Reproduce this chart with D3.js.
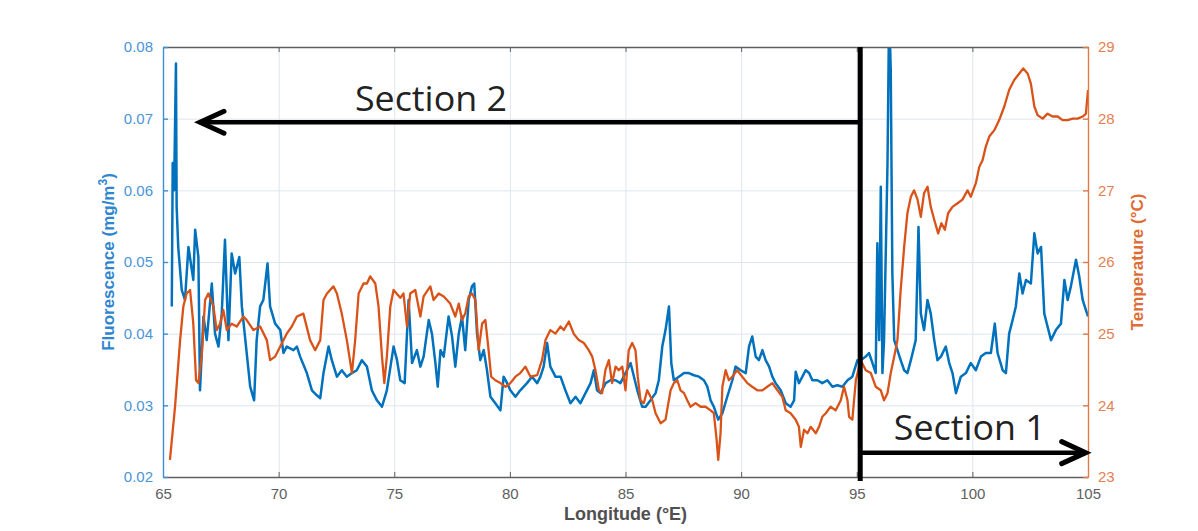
<!DOCTYPE html>
<html>
<head>
<meta charset="utf-8">
<script src="https://cdn.jsdelivr.net/npm/d3@7"></script>
<style>
  body { margin: 0; background: #fff; }
  svg { display: block; font-family: "Liberation Sans", Arial, sans-serif; }
</style>
</head>
<body>
<div id="chart"></div>
<script>
// fluorescence (mg/m3) along the track
const fluoLon = [65.38, 65.42, 65.48, 65.56, 65.59, 65.66, 65.81, 65.95, 66.10, 66.31, 66.39, 66.53, 66.60, 66.75, 66.89, 67.11, 67.25, 67.40, 67.54, 67.68, 67.83, 67.97, 68.12, 68.30, 68.41, 68.62, 68.77, 68.94, 69.05, 69.20, 69.34, 69.52, 69.63, 69.85, 70.07, 70.21, 70.35, 70.64, 70.79, 70.93, 71.22, 71.44, 71.65, 71.80, 71.94, 72.16, 72.30, 72.52, 72.73, 72.95, 73.17, 73.38, 73.60, 73.82, 74.03, 74.25, 74.47, 74.68, 74.97, 75.12, 75.26, 75.45, 75.62, 75.77, 75.98, 76.13, 76.27, 76.49, 76.63, 76.78, 76.88, 77.00, 77.14, 77.35, 77.50, 77.64, 77.79, 77.93, 78.07, 78.22, 78.36, 78.46, 78.58, 78.72, 78.87, 79.01, 79.16, 79.37, 79.59, 79.73, 79.88, 80.02, 80.24, 80.45, 80.74, 80.96, 81.18, 81.32, 81.46, 81.61, 81.75, 81.97, 82.19, 82.40, 82.62, 82.84, 83.05, 83.27, 83.49, 83.63, 83.77, 83.92, 84.14, 84.35, 84.57, 84.78, 85.22, 85.51, 85.72, 85.87, 86.08, 86.30, 86.44, 86.59, 86.73, 86.88, 86.98, 87.09, 87.31, 87.53, 87.74, 87.96, 88.18, 88.39, 88.54, 88.68, 88.82, 89.01, 89.19, 89.40, 89.62, 89.76, 89.98, 90.20, 90.34, 90.48, 90.63, 90.77, 90.92, 91.06, 91.21, 91.35, 91.49, 91.71, 91.93, 92.14, 92.29, 92.36, 92.50, 92.65, 92.79, 92.94, 93.08, 93.30, 93.51, 93.73, 93.95, 94.16, 94.38, 94.60, 94.81, 95.03, 95.17, 95.39, 95.53, 95.68, 95.82, 95.89, 95.97, 96.04, 96.11, 96.18, 96.26, 96.33, 96.40, 96.47, 96.54, 96.62, 96.76, 96.90, 97.05, 97.19, 97.34, 97.55, 97.67, 97.77, 97.91, 98.06, 98.20, 98.35, 98.49, 98.64, 98.85, 99.00, 99.14, 99.29, 99.50, 99.72, 99.93, 100.15, 100.37, 100.58, 100.80, 100.97, 101.09, 101.31, 101.45, 101.59, 101.74, 101.88, 102.03, 102.17, 102.32, 102.53, 102.68, 102.82, 102.97, 103.11, 103.25, 103.40, 103.61, 103.83, 103.98, 104.12, 104.26, 104.48, 104.62, 104.77, 104.91, 105.00];
const fluoVal = [0.0438, 0.0638, 0.0600, 0.0777, 0.0577, 0.0520, 0.0461, 0.0447, 0.0521, 0.0475, 0.0545, 0.0507, 0.0321, 0.0424, 0.0391, 0.0470, 0.0400, 0.0382, 0.0428, 0.0531, 0.0391, 0.0512, 0.0484, 0.0507, 0.0438, 0.0373, 0.0326, 0.0307, 0.0391, 0.0438, 0.0447, 0.0498, 0.0438, 0.0414, 0.0405, 0.0373, 0.0382, 0.0377, 0.0382, 0.0368, 0.0345, 0.0321, 0.0314, 0.0310, 0.0345, 0.0382, 0.0363, 0.0340, 0.0349, 0.0340, 0.0345, 0.0349, 0.0363, 0.0354, 0.0321, 0.0307, 0.0298, 0.0321, 0.0382, 0.0363, 0.0335, 0.0331, 0.0447, 0.0359, 0.0377, 0.0354, 0.0368, 0.0419, 0.0400, 0.0359, 0.0326, 0.0377, 0.0368, 0.0424, 0.0396, 0.0354, 0.0400, 0.0424, 0.0377, 0.0447, 0.0466, 0.0470, 0.0400, 0.0363, 0.0377, 0.0349, 0.0312, 0.0303, 0.0293, 0.0340, 0.0331, 0.0321, 0.0312, 0.0321, 0.0331, 0.0340, 0.0331, 0.0340, 0.0354, 0.0387, 0.0354, 0.0340, 0.0340, 0.0321, 0.0303, 0.0312, 0.0303, 0.0317, 0.0331, 0.0349, 0.0321, 0.0317, 0.0331, 0.0335, 0.0335, 0.0331, 0.0359, 0.0321, 0.0298, 0.0298, 0.0307, 0.0317, 0.0335, 0.0382, 0.0405, 0.0438, 0.0359, 0.0335, 0.0340, 0.0345, 0.0345, 0.0342, 0.0340, 0.0335, 0.0326, 0.0307, 0.0298, 0.0280, 0.0289, 0.0312, 0.0335, 0.0354, 0.0349, 0.0345, 0.0382, 0.0396, 0.0368, 0.0363, 0.0377, 0.0363, 0.0354, 0.0340, 0.0331, 0.0321, 0.0303, 0.0298, 0.0307, 0.0347, 0.0331, 0.0340, 0.0349, 0.0345, 0.0335, 0.0335, 0.0331, 0.0335, 0.0326, 0.0328, 0.0326, 0.0335, 0.0340, 0.0363, 0.0363, 0.0368, 0.0373, 0.0359, 0.0345, 0.0526, 0.0391, 0.0605, 0.0345, 0.0391, 0.0521, 0.0638, 0.0850, 0.0768, 0.0484, 0.0391, 0.0377, 0.0363, 0.0349, 0.0345, 0.0363, 0.0391, 0.0549, 0.0428, 0.0405, 0.0447, 0.0428, 0.0391, 0.0363, 0.0368, 0.0382, 0.0359, 0.0345, 0.0317, 0.0340, 0.0345, 0.0359, 0.0349, 0.0368, 0.0373, 0.0373, 0.0414, 0.0373, 0.0349, 0.0345, 0.0400, 0.0419, 0.0438, 0.0484, 0.0456, 0.0475, 0.0470, 0.0540, 0.0512, 0.0521, 0.0428, 0.0410, 0.0391, 0.0405, 0.0414, 0.0475, 0.0447, 0.0466, 0.0503, 0.0480, 0.0447, 0.0433, 0.0424];

// temperature (degC)
const tempLon = [65.30, 65.52, 65.74, 65.88, 66.02, 66.17, 66.31, 66.43, 66.53, 66.67, 66.82, 66.96, 67.18, 67.32, 67.47, 67.61, 67.76, 67.97, 68.19, 68.48, 68.62, 68.91, 69.20, 69.49, 69.63, 69.85, 70.07, 70.35, 70.57, 70.79, 71.07, 71.36, 71.58, 71.80, 71.94, 72.09, 72.37, 72.52, 72.73, 72.95, 73.17, 73.31, 73.46, 73.67, 73.82, 73.96, 74.18, 74.32, 74.47, 74.57, 74.68, 74.83, 74.97, 75.26, 75.40, 75.55, 75.69, 75.91, 76.13, 76.27, 76.56, 76.70, 76.92, 77.14, 77.42, 77.64, 77.79, 77.93, 78.07, 78.22, 78.36, 78.51, 78.65, 78.80, 78.94, 79.08, 79.19, 79.37, 79.59, 79.81, 80.02, 80.24, 80.45, 80.67, 80.89, 81.18, 81.39, 81.54, 81.75, 81.97, 82.19, 82.33, 82.55, 82.76, 82.98, 83.20, 83.41, 83.56, 83.70, 83.85, 83.99, 84.13, 84.28, 84.42, 84.57, 84.71, 84.86, 85.00, 85.14, 85.29, 85.43, 85.53, 85.65, 85.79, 85.94, 86.16, 86.30, 86.52, 86.73, 86.95, 87.09, 87.24, 87.38, 87.53, 87.67, 87.81, 88.03, 88.25, 88.46, 88.68, 88.82, 88.94, 89.01, 89.11, 89.19, 89.33, 89.47, 89.62, 89.83, 90.05, 90.27, 90.48, 90.70, 90.92, 91.13, 91.35, 91.57, 91.78, 91.93, 92.14, 92.36, 92.50, 92.58, 92.72, 92.87, 93.01, 93.23, 93.37, 93.51, 93.66, 93.87, 94.09, 94.31, 94.45, 94.60, 94.67, 94.81, 94.96, 95.17, 95.39, 95.61, 95.82, 96.04, 96.18, 96.33, 96.47, 96.62, 96.76, 96.90, 97.05, 97.19, 97.34, 97.48, 97.63, 97.77, 97.91, 98.06, 98.20, 98.35, 98.52, 98.66, 98.81, 98.95, 99.14, 99.36, 99.57, 99.79, 99.93, 100.15, 100.30, 100.44, 100.58, 100.73, 100.95, 101.16, 101.38, 101.59, 101.81, 102.03, 102.20, 102.39, 102.53, 102.68, 102.82, 103.04, 103.25, 103.47, 103.69, 103.90, 104.12, 104.34, 104.55, 104.77, 104.91, 105.00];
const tempVal = [23.24, 23.98, 24.91, 25.38, 25.56, 25.61, 25.14, 24.35, 24.31, 24.68, 25.47, 25.56, 25.38, 25.05, 25.14, 25.33, 25.05, 25.14, 25.10, 25.24, 25.19, 25.05, 25.10, 24.91, 24.63, 24.68, 24.82, 25.00, 25.10, 25.24, 25.28, 24.91, 24.77, 24.91, 25.47, 25.56, 25.66, 25.56, 25.28, 24.91, 24.45, 24.91, 25.56, 25.70, 25.70, 25.80, 25.70, 25.38, 24.68, 24.31, 24.68, 25.38, 25.61, 25.50, 25.56, 25.10, 25.56, 25.61, 25.24, 25.52, 25.66, 25.47, 25.56, 25.52, 25.42, 25.24, 25.42, 25.19, 25.28, 25.52, 25.56, 25.47, 24.77, 25.14, 25.19, 24.77, 24.40, 24.35, 24.31, 24.26, 24.31, 24.40, 24.45, 24.54, 24.40, 24.42, 24.63, 24.91, 25.05, 25.00, 25.10, 25.05, 25.17, 25.00, 24.91, 24.87, 24.77, 24.68, 24.49, 24.21, 24.17, 24.49, 24.63, 24.31, 24.54, 24.49, 24.54, 24.21, 24.77, 24.87, 24.77, 24.40, 24.07, 24.03, 24.21, 24.07, 23.89, 23.75, 23.80, 24.21, 24.31, 24.35, 24.21, 24.17, 24.07, 23.98, 24.03, 23.98, 23.98, 23.93, 23.89, 23.52, 23.24, 23.61, 24.26, 24.49, 24.35, 24.40, 24.49, 24.40, 24.31, 24.26, 24.21, 24.21, 24.26, 24.31, 24.21, 24.12, 23.93, 23.89, 23.80, 23.70, 23.42, 23.66, 23.61, 23.70, 23.61, 23.70, 23.84, 23.89, 23.98, 23.93, 24.07, 24.26, 24.07, 23.84, 23.80, 24.35, 24.63, 24.49, 24.45, 24.26, 24.21, 24.07, 24.17, 24.45, 24.68, 24.91, 25.61, 26.21, 26.68, 26.91, 27.00, 26.87, 26.63, 26.96, 27.05, 26.77, 26.59, 26.40, 26.54, 26.45, 26.68, 26.77, 26.82, 26.87, 27.00, 26.91, 27.10, 27.33, 27.42, 27.61, 27.75, 27.84, 27.98, 28.17, 28.40, 28.54, 28.63, 28.70, 28.63, 28.49, 28.17, 28.05, 28.00, 28.07, 28.03, 28.03, 27.98, 27.98, 28.00, 28.00, 28.03, 28.07, 28.40];

const lonTicks = [65, 70, 75, 80, 85, 90, 95, 100, 105];
const fluoTicks = [0.02, 0.03, 0.04, 0.05, 0.06, 0.07, 0.08];
const tempTicks = [23, 24, 25, 26, 27, 28, 29];

// section divider and arrows (longitude / fluorescence units)
const sectionLon = 95.15;
const sections = [
    {label: 'Section 2', tip: 66.6, y: 0.0695, textLon: 73.3, textY: 0.0711},
    {label: 'Section 1', tip: 104.9, y: 0.0234, textLon: 96.6, textY: 0.0251}
];

const W = 1198, H = 531;
const margin = {top: 47, right: 110, bottom: 54, left: 163};
const width = W - margin.left - margin.right;
const height = H - margin.top - margin.bottom;

const blue = '#0072BD';
const orange = '#D95319';

const svg = d3.select('#chart').append('svg')
    .attr('width', W)
    .attr('height', H);

const g = svg.append('g')
    .attr('transform', `translate(${margin.left},${margin.top})`);

const x = d3.scaleLinear().domain([65, 105]).range([0, width]);
const yF = d3.scaleLinear().domain([0.02, 0.08]).range([height, 0]);
const yT = d3.scaleLinear().domain([23, 29]).range([height, 0]);

// grid
g.append('g')
    .attr('class', 'grid')
    .attr('transform', `translate(0,${height})`)
    .call(d3.axisBottom(x).tickValues(lonTicks).tickSize(-height).tickFormat(''));
g.append('g')
    .attr('class', 'grid')
    .call(d3.axisLeft(yF).tickValues(fluoTicks).tickSize(-width).tickFormat(''));
g.selectAll('.grid line').attr('stroke', '#dfe6ee').attr('stroke-width', 1);
g.selectAll('.grid .domain').remove();

g.append('clipPath').attr('id', 'plot-clip')
    .append('rect').attr('width', width).attr('height', height);

const fluoData = fluoLon.map((d, i) => [d, fluoVal[i]]);
const tempData = tempLon.map((d, i) => [d, tempVal[i]]);

const lines = g.append('g').attr('clip-path', 'url(#plot-clip)');
lines.append('path')
    .datum(fluoData)
    .attr('fill', 'none')
    .attr('stroke', blue)
    .attr('stroke-width', 2.5)
    .attr('stroke-linejoin', 'round')
    .attr('d', d3.line().x(d => x(d[0])).y(d => yF(d[1])));
lines.append('path')
    .datum(tempData)
    .attr('fill', 'none')
    .attr('stroke', orange)
    .attr('stroke-width', 2.3)
    .attr('stroke-linejoin', 'round')
    .attr('d', d3.line().x(d => x(d[0])).y(d => yT(d[1])));

// axes, MATLAB style ticks pointing inward
const tickFont = 15;
const axBottom = g.append('g')
    .attr('transform', `translate(0,${height})`)
    .call(d3.axisBottom(x).tickValues(lonTicks).tickSizeInner(-5).tickSizeOuter(0).tickPadding(11).tickFormat(d3.format('d')));
const axTop = g.append('g')
    .call(d3.axisTop(x).tickValues(lonTicks).tickSizeInner(-5).tickSizeOuter(0).tickFormat(''));
[axBottom, axTop].forEach(a => {
    a.selectAll('path, line').attr('stroke', '#606060');
    a.select('.domain').attr('stroke-width', 1.4);
});
axBottom.selectAll('text').attr('fill', '#606060').style('font-size', tickFont + 'px');

const axLeft = g.append('g')
    .call(d3.axisLeft(yF).tickValues(fluoTicks).tickSizeInner(-5).tickSizeOuter(0).tickPadding(10).tickFormat(d3.format('.2f')));
axLeft.selectAll('path, line').attr('stroke', '#3d8ed6').attr('stroke-width', 1.4);
axLeft.selectAll('text').attr('fill', '#4a95d8').style('font-size', tickFont + 'px');

const axRight = g.append('g')
    .attr('transform', `translate(${width},0)`)
    .call(d3.axisRight(yT).tickValues(tempTicks).tickSizeInner(-5).tickSizeOuter(0).tickPadding(10).tickFormat(d3.format('d')));
axRight.selectAll('path, line').attr('stroke', '#e07a48').attr('stroke-width', 1.4);
axRight.selectAll('text').attr('fill', '#e38152').style('font-size', tickFont + 'px');

// axis titles
svg.append('text')
    .attr('x', margin.left + width / 2)
    .attr('y', 520)
    .attr('text-anchor', 'middle')
    .attr('fill', '#505050')
    .style('font-size', '18px')
    .style('font-weight', 'bold')
    .text('Longitude (°E)');

const fl = svg.append('text')
    .attr('transform', `translate(114,${margin.top + height / 2}) rotate(-90)`)
    .attr('text-anchor', 'middle')
    .attr('fill', '#2f86d0')
    .style('font-size', '17px')
    .style('font-weight', 'bold');
fl.append('tspan').text('Fluorescence (mg/m');
fl.append('tspan').attr('dy', -7).style('font-size', '12px').text('3');
fl.append('tspan').attr('dy', 7).text(')');

svg.append('text')
    .attr('transform', `translate(1143,${margin.top + height / 2}) rotate(-90)`)
    .attr('text-anchor', 'middle')
    .attr('fill', '#df6c34')
    .style('font-size', '17px')
    .style('font-weight', 'bold')
    .text('Temperature (°C)');

// section annotations
const ann = g.append('g');
ann.append('line')
    .attr('x1', x(sectionLon)).attr('x2', x(sectionLon))
    .attr('y1', 0).attr('y2', height + 4)
    .attr('stroke', '#000')
    .attr('stroke-width', 5);

sections.forEach(s => {
    const x0 = x(sectionLon);
    const x1 = x(s.tip);
    const yy = yF(s.y);
    const dir = x1 < x0 ? 1 : -1;
    ann.append('line')
        .attr('x1', x0).attr('x2', x1 + dir * 2)
        .attr('y1', yy).attr('y2', yy)
        .attr('stroke', '#000')
        .attr('stroke-width', 4.5);
    ann.append('path')
        .attr('d', `M${x1 + dir * 24},${yy - 11} L${x1},${yy} L${x1 + dir * 24},${yy + 11}`)
        .attr('fill', 'none')
        .attr('stroke', '#000')
        .attr('stroke-width', 5)
        .attr('stroke-linejoin', 'miter')
        .attr('stroke-linecap', 'round');
    ann.append('text')
        .attr('x', x(s.textLon))
        .attr('y', yF(s.textY))
        .attr('fill', '#222')
        .attr('textLength', 152)
        .attr('lengthAdjust', 'spacingAndGlyphs')
        .style('font-family', '"Open Sans", "Noto Sans", sans-serif')
        .style('font-size', '34px')
        .text(s.label);
});
</script>
</body>
</html>
